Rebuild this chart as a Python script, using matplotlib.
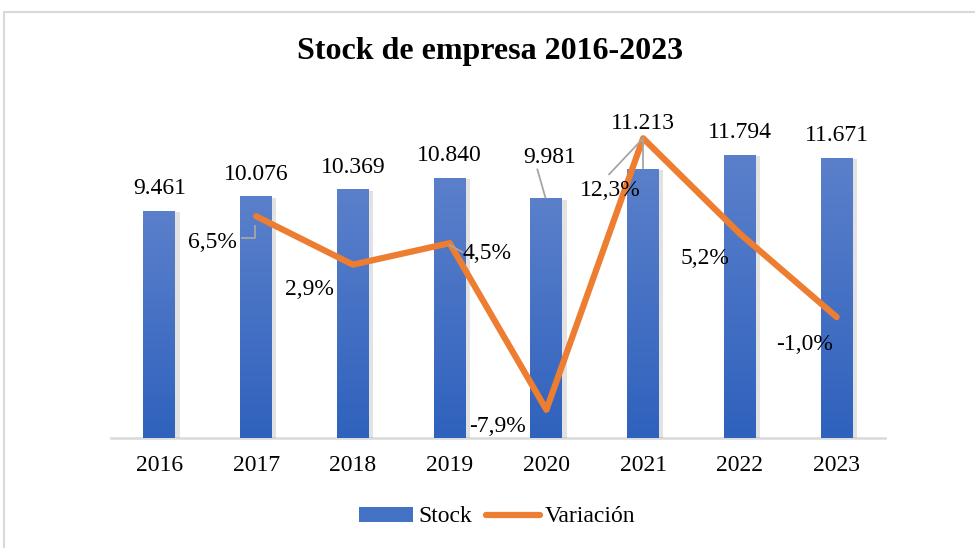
import matplotlib
matplotlib.use("Agg")
import matplotlib.pyplot as plt
import numpy as np
from matplotlib.patches import Rectangle, Patch
from matplotlib.lines import Line2D
from matplotlib.transforms import offset_copy
from matplotlib.colors import LinearSegmentedColormap
import matplotlib.patheffects as pe

years = ["2016", "2017", "2018", "2019", "2020", "2021", "2022", "2023"]
stock = [9461, 10076, 10369, 10840, 9981, 11213, 11794, 11671]
variacion = [None, 6.5, 2.9, 4.5, -7.9, 12.3, 5.2, -1.0]
title = "Stock de empresa 2016-2023"

plt.rcParams['font.family'] = ['Liberation Serif', 'DejaVu Serif']

fig = plt.figure(figsize=(9.75, 5.48), dpi=100)
W, H = 975, 548
ax = fig.add_axes([111 / W, (H - 438) / H, 774 / W, 336 / H])
ax2 = ax.twinx()

x = np.arange(len(years))
bars = ax.bar(x, stock, width=0.33, color='#4472C4', zorder=2,
              path_effects=[pe.SimplePatchShadow(offset=(3, -1), shadow_rgbFace='#8c8c8c', alpha=0.25),
                            pe.Normal()])
grad = np.linspace(0, 1, 256).reshape(-1, 1)
cmap = LinearSegmentedColormap.from_list('g', ['#2F62BD', '#5B80CB'])
for b in bars:
    x0, y0 = b.get_x(), b.get_y()
    im = ax.imshow(grad, extent=[x0, x0 + b.get_width(), y0, y0 + b.get_height()],
                   origin='lower', cmap=cmap, aspect='auto', zorder=3)
    im.set_clip_path(b)

ax.set_xlim(-0.5, len(years) - 0.5)
ax.set_ylim(0, 14000)
ax2.set_ylim(-10, 15)

for a in (ax, ax2):
    for s in ('top', 'right', 'left'):
        a.spines[s].set_visible(False)
    a.set_yticks([])
ax2.spines['bottom'].set_visible(False)
ax.spines['bottom'].set_color('#D9D9D9')
ax.spines['bottom'].set_linewidth(1.8)
ax.spines['bottom'].set_zorder(1)

ax.set_xticks(x)
ax.set_xticklabels(years, fontsize=17)
ax.tick_params(axis='x', length=0, pad=12)


def fmt_int(v):
    return f"{v:,}".replace(",", ".")


def place(axis, xi, yi, dx, dy):
    return offset_copy(axis.transData, fig=fig, x=dx / 100, y=dy / 100, units='inches')


# bar labels
bar_off = {4: (3, 41), 5: (0, 45)}
for i, v in enumerate(stock):
    dx, dy = bar_off.get(i, (0, 22))
    ax.text(x[i], v, fmt_int(v), ha='center', va='center', fontsize=17, zorder=6,
            transform=place(ax, x[i], v, dx, dy))

# line
lx = [x[i] for i, v in enumerate(variacion) if v is not None]
ly = [v for v in variacion if v is not None]
ax2.plot(lx, ly, color='#ED7D31', lw=4.5, solid_capstyle='round', solid_joinstyle='round', zorder=5)

line_off = {1: (-44, -26), 2: (-43, -25), 3: (37, -10), 4: (-49, -17), 5: (-33, -52), 6: (-35, -25), 7: (-32, -27)}
for i, v in enumerate(variacion):
    if v is None:
        continue
    dx, dy = line_off[i]
    lab = f"{v:.1f}%".replace(".", ",")
    ax2.text(x[i], v, lab, ha='center', va='center', fontsize=17, zorder=7,
             transform=place(ax2, x[i], v, dx, dy))


def leader(axis, xi, yi, pts):
    xs, ys = [], []
    for (ox, oy) in pts:
        d = place(axis, xi, yi, ox, oy).transform((xi, yi))
        xs.append(d[0]); ys.append(d[1])
    fig.add_artist(Line2D(xs, ys, color='#A6A6A6', lw=1.3, transform=None, zorder=4))


leader(ax2, x[1], variacion[1], [(-14, -22), (-1, -22), (-1, -10)])
leader(ax2, x[3], variacion[3], [(0, -2), (13, -9)])
leader(ax2, x[5], variacion[5], [(0, 0), (-34, -36)])
leader(ax, x[5], stock[5], [(0, 1), (0, 31)])
leader(ax, x[4], stock[4], [(-1, 1), (-9, 29)])

fig.text(0.5 + 3 / W, 1 - 52 / H, title, ha='center', va='center', fontsize=23, fontweight='bold')

handles = [Patch(facecolor='#4472C4', edgecolor='none'),
           Line2D([0], [0], color='#ED7D31', lw=4.5, solid_capstyle='round')]
fig.legend(handles, ['Stock', 'Variación'], loc='center', bbox_to_anchor=(0.51, 1 - 517 / H),
           ncol=2, frameon=False, fontsize=17, handlelength=2.3, handleheight=0.6,
           columnspacing=0.6, handletextpad=0.2)

fig.add_artist(Rectangle((4 / W, -0.1), 1.2, 1 - 12 / H + 0.1, transform=fig.transFigure,
                         fill=False, ec='#D9D9D9', lw=1.5))

fig.savefig('out.png', dpi=100, facecolor='white')
